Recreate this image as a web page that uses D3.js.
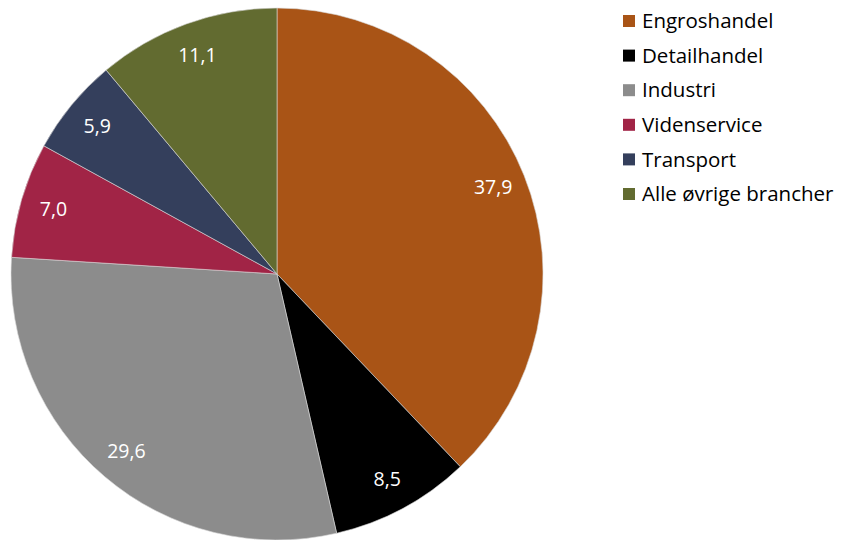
<!DOCTYPE html>
<html>
<head>
<meta charset="utf-8">
<script src="https://cdn.jsdelivr.net/npm/d3@7"></script>
<style>
  body { margin: 0; background: #fff; }
  text { font-family: "Open Sans", sans-serif; }
</style>
</head>
<body>
<div id="chart"></div>
<script>
var categories = ["Engroshandel", "Detailhandel", "Industri", "Videnservice", "Transport", "Alle øvrige brancher"];
var values = [37.9, 8.5, 29.6, 7.0, 5.9, 11.1];
var colors = ["#A95416", "#000000", "#8C8C8C", "#A12446", "#343F5C", "#626B30"];

var svg = d3.select("#chart")
    .append("svg")
    .attr("width", 842)
    .attr("height", 540);

var radius = 266;
var cx = 277, cy = 274;

var color = d3.scaleOrdinal().domain(categories).range(colors);

var data = categories.map(function(c, i) { return {name: c, value: values[i]}; });

var pie = d3.pie().sort(null).value(function(d) { return d.value; });
var arc = d3.arc().innerRadius(0).outerRadius(radius);
var labelArc = d3.arc().innerRadius(radius * 0.875).outerRadius(radius * 0.875);

var g = svg.append("g")
    .attr("transform", "translate(" + cx + "," + cy + ")");

var slices = pie(data);

g.selectAll(".slice")
    .data(slices)
    .join("path")
    .attr("class", "slice")
    .attr("d", arc)
    .attr("fill", function(d) { return color(d.data.name); })
    .attr("stroke", "#d9d9d9")
    .attr("stroke-width", 0.6);

g.selectAll(".lbl")
    .data(slices)
    .join("text")
    .attr("class", "lbl")
    .attr("transform", function(d) { return "translate(" + labelArc.centroid(d) + ")"; })
    .attr("text-anchor", "middle")
    .attr("dy", "0.35em")
    .attr("fill", "#fff")
    .style("font-size", "19.5px")
    .text(function(d) { return d3.format(".1f")(d.data.value).replace(".", ","); });

/* legend */
var legend = svg.append("g")
    .attr("transform", "translate(623,21)");

var rows = legend.selectAll(".row")
    .data(categories)
    .join("g")
    .attr("class", "row")
    .attr("transform", function(d, i) { return "translate(0," + (i * 34.6) + ")"; });

rows.append("rect")
    .attr("x", 0)
    .attr("y", -6)
    .attr("width", 12)
    .attr("height", 12)
    .attr("fill", function(d) { return color(d); });

rows.append("text")
    .attr("x", 19)
    .attr("dy", "0.35em")
    .attr("fill", "#000")
    .style("font-size", "20.5px")
    .text(function(d) { return d; });
</script>
</body>
</html>
